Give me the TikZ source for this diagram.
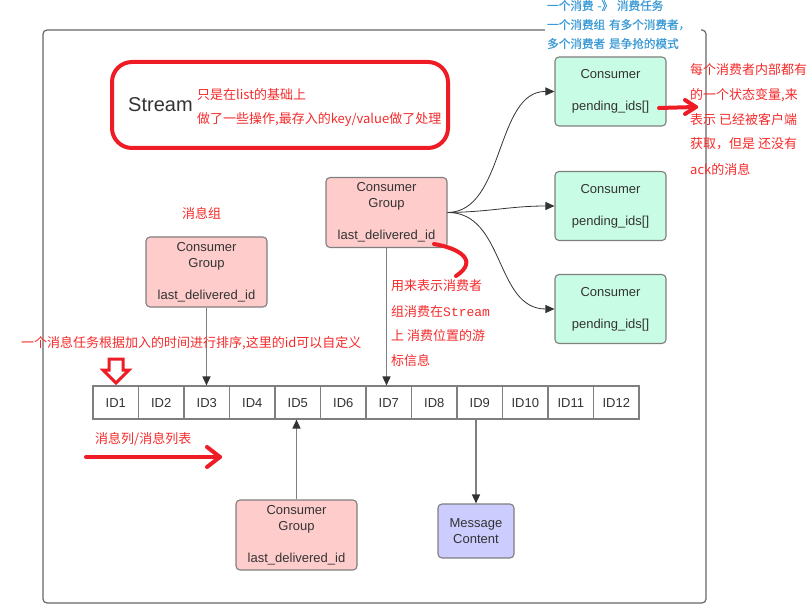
\documentclass[tikz,border=0pt]{standalone}
\usepackage{fontspec}
\setmainfont{Liberation Sans}
\newfontfamily\cjk{Noto Sans CJK SC}
\newfontfamily\cjkm[FakeBold=0.6]{Noto Sans CJK SC}
\newfontfamily\monof{Liberation Mono}
\usetikzlibrary{arrows.meta}
\definecolor{txt}{HTML}{333333}
\definecolor{bord}{HTML}{7F7F7F}
\definecolor{grn}{HTML}{C8FCE4}
\definecolor{pnk}{HTML}{FFCCCC}
\definecolor{blu}{HTML}{CCCCFF}
\definecolor{rd}{HTML}{EE1C25}
\definecolor{rdt}{HTML}{F42A2A}
\definecolor{bluetxt}{HTML}{3A9AD6}
\tikzset{
  box/.style={draw=bord, line width=1.1pt, rounded corners=4pt, text=txt, align=center,
     font=\fontsize{13}{16}\selectfont, inner sep=0pt},
  cons/.style={box, fill=grn, minimum width=111pt, minimum height=69pt},
  grp/.style={box, fill=pnk, minimum width=121pt, minimum height=70pt},
  msgbox/.style={box, fill=blu, minimum width=76pt, minimum height=54pt},
  idcell/.style={draw=bord, line width=1.1pt, fill=white, text=txt, minimum width=45.5pt,
     minimum height=33pt, inner sep=0pt, text height=9.4pt, text depth=0pt,
     font=\fontsize{13}{16}\selectfont},
  conn/.style={draw=bord, line width=1.5pt, -{Triangle[length=9pt,width=8pt]}, arrows={[color=txt]}},
  curv/.style={draw=txt, line width=0.8pt, -{Triangle[length=9pt,width=8pt]}},
  redtxt/.style={text=rdt, anchor=west, inner sep=0pt, font=\cjk\fontsize{13}{16}\selectfont},
  redline/.style={draw=rd, line width=4pt, line cap=round, line join=round},
}
\begin{document}
\begin{tikzpicture}[x=1pt,y=-1pt]
\useasboundingbox (0,0) rectangle (812,615);
% frame
\draw[draw=bord!80!black, line width=1.2pt, rounded corners=4pt] (43,30) rectangle (706,603);
\node[anchor=north west, fill=white, inner sep=2pt, text width=152pt, align=left,
      text=bluetxt, font=\cjkm\fontsize{11.6}{19}\selectfont] (note) at (545,-2)
  {一个消费 -》 消费任务\\一个消费组 有多个消费者，\\多个消费者 是争抢的模式};
% stream box
\draw[redline, rounded corners=20pt] (112,62) rectangle (448,148);
\node[anchor=west, inner sep=0pt, text=txt, font=\fontsize{20}{24}\selectfont] (stream) at (128,105) {Stream};
\node[redtxt] (s1) at (197,95) {只是在list的基础上};
\node[redtxt] (s2) at (197,120) {做了一些操作,最存入的key/value做了处理};
% consumers
\node[cons] (c1) at (610.5,91.5) {Consumer\\[16pt]pending\_ids[]};
\node[cons] (c2) at (610.5,206) {Consumer\\[16pt]pending\_ids[]};
\node[cons] (c3) at (610.5,309) {Consumer\\[16pt]pending\_ids[]};
% groups
\node[grp] (g1) at (206.5,272) {Consumer\\Group\\[16pt]last\_delivered\_id};
\node[grp] (g2) at (386.5,212.5) {Consumer\\Group\\[16pt]last\_delivered\_id};
\node[grp] (g3) at (296.5,535) {Consumer\\Group\\[16pt]last\_delivered\_id};
\node[msgbox] (msg) at (476,531) {Message\\Content};
% ids
\foreach \i in {1,...,12}{
  \node[idcell] (id\i) at ({93+(\i-0.5)*45.5},402.5) {ID\i};
}
% connectors
\draw[conn] (g1.south) -- (g1.south |- id3.north);
\draw[conn] (g2.south) -- (g2.south |- id7.north);
\draw[conn] (g3.north) -- (g3.north |- id5.south);
\draw[conn] (msg.north |- id9.south) -- (msg.north);
\draw[curv] (g2.east) .. controls (505,212) and (495,91) .. (c1.west);
\draw[curv] (g2.east) .. controls (490,212) and (510,206) .. (c2.west);
\draw[curv] (g2.east) .. controls (505,212) and (495,309) .. (c3.west);
% red annotations
\node[redtxt] (lblgrp) at (182,213) {消息组};
\node[redtxt] (lblsort) at (21,343) {一个消息任务根据加入的时间进行排序,这里的id可以自定义};
\node[redtxt] (lbllist) at (95,439) {消息列/消息列表};
\draw[draw=rd, line width=3pt, line join=miter] (109,359) -- (123,359) -- (123,370) -- (129,370) -- (116,383) -- (103,370) -- (109,370) -- cycle;
\draw[redline] (86,457) -- (220,457);
\draw[redline] (207,447) -- (220,457) -- (207,467);
\draw[redline] (659,108) -- (696,107);
\draw[redline] (685,100) -- (696,107) -- (685,114);
\draw[redline] (434,244) .. controls (458,248) and (480,260) .. (456,276);
\node[redtxt] (r1) at (690,70) {每个消费者内部都有};
\node[redtxt] (r2) at (690,95) {的一个状态变量,来};
\node[redtxt] (r3) at (690,120) {表示 已经被客户端};
\node[redtxt] (r4) at (690,144) {获取，但是 还没有};
\node[redtxt] (r5) at (690,169) {ack的消息};
\node[redtxt] (m1) at (391,286) {用来表示消费者};
\node[redtxt] (m2) at (391,312) {组消费在{\monof Stream}};
\node[redtxt] (m3) at (391,336) {上 消费位置的游};
\node[redtxt] (m4) at (391,361) {标信息};
\end{tikzpicture}
\end{document}
